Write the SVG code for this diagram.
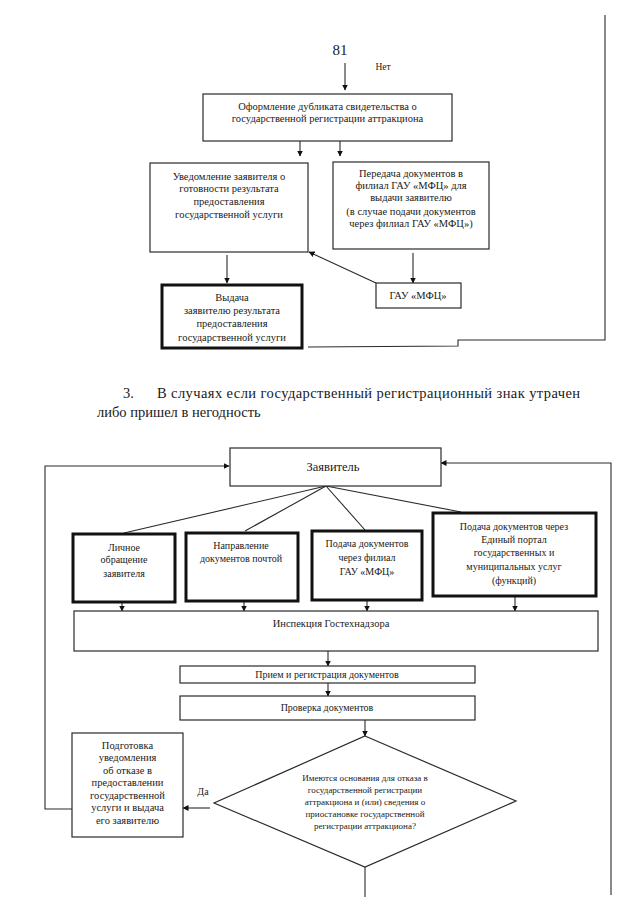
<svg xmlns="http://www.w3.org/2000/svg" width="640" height="905" viewBox="0 0 640 905">
<style>
text{font-family:"Liberation Serif","Times New Roman",serif;fill:#1a1a1a;text-anchor:middle}
.b{fill:#fff;stroke:#2a2a2a;stroke-width:1.2}
.k{fill:#fff;stroke:#111;stroke-width:3}
.c{fill:none;stroke:#2a2a2a;stroke-width:1.1}
.a{marker-end:url(#ah)}
.t10{font-size:10.5px}
.t10s{font-size:10px}
.t9{font-size:9px}
</style>
<defs>
<marker id="ah" markerUnits="userSpaceOnUse" markerWidth="6" markerHeight="6" refX="5.5" refY="3" orient="auto">
<path d="M0,0 L6,3 L0,6 z" fill="#111"/>
</marker>
</defs>
<rect width="640" height="905" fill="#fff"/>

<g id="page-text">
<text x="340" y="55" style="font-size:15px">81</text>
<text x="123" y="398" style="font-size:14.5px;text-anchor:start">3.</text>
<text x="157" y="398" style="font-size:14.5px;text-anchor:start" textLength="423" lengthAdjust="spacing">В случаях если государственный регистрационный знак утрачен</text>
<text x="97" y="417" style="font-size:14.5px;text-anchor:start">либо пришел в негодность</text>
</g>

<g id="connectors">
<line class="c a" x1="345" y1="63" x2="345" y2="90"/>
<line class="c a" x1="300" y1="141" x2="300" y2="156"/>
<line class="c a" x1="340" y1="141" x2="340" y2="156"/>
<line class="c a" x1="227" y1="255" x2="227" y2="283"/>
<line class="c a" x1="413" y1="253" x2="413" y2="283"/>
<line class="c a" x1="376" y1="283" x2="309" y2="252"/>
<polyline class="c" points="605,15 605,340 458,340 458,346 308,347"/>

<polyline class="c a" points="72,809 45,809 45,466 229,466"/>
<polyline class="c a" points="611,895 611,463 441,463"/>
<line class="c" x1="326" y1="486" x2="124" y2="533"/>
<line class="c" x1="326" y1="486" x2="245" y2="531"/>
<line class="c" x1="326" y1="486" x2="365" y2="530"/>
<line class="c" x1="326" y1="486" x2="461" y2="512"/>
<line class="c a" x1="122" y1="602" x2="122" y2="611"/>
<line class="c a" x1="244" y1="601" x2="244" y2="611"/>
<line class="c a" x1="367" y1="600" x2="367" y2="611"/>
<line class="c a" x1="515" y1="596" x2="515" y2="611"/>
<line class="c a" x1="328" y1="651" x2="328" y2="666"/>
<line class="c a" x1="328" y1="683" x2="328" y2="696"/>
<line class="c a" x1="365" y1="720" x2="365" y2="736"/>
<line class="c" x1="365" y1="867" x2="365" y2="897"/>
<line class="c a" x1="210" y1="808" x2="183" y2="808"/>
</g>

<g id="node-dublikat">
<rect class="b" x="203" y="94" width="249" height="47"/>
<text class="t10" x="327.5" y="110">Оформление дубликата свидетельства о</text>
<text class="t10" x="327.5" y="122">государственной регистрации аттракциона</text>
</g>

<g id="node-uvedomlenie">
<rect class="b" x="150" y="163" width="158" height="89"/>
<text class="t10" x="229" y="179.5">Уведомление заявителя о</text>
<text class="t10" x="229" y="192">готовности результата</text>
<text class="t10" x="229" y="205">предоставления</text>
<text class="t10" x="229" y="218">государственной услуги</text>
</g>

<g id="node-peredacha">
<rect class="b" x="333" y="162" width="156" height="87"/>
<text class="t10" x="411" y="177">Передача документов в</text>
<text class="t10" x="411" y="189">филиал ГАУ «МФЦ» для</text>
<text class="t10" x="411" y="201">выдачи заявителю</text>
<text class="t10" x="411" y="215">(в случае подачи документов</text>
<text class="t10" x="411" y="227">через филиал ГАУ «МФЦ»)</text>
</g>

<g id="node-vydacha">
<rect class="k" x="162" y="285" width="140" height="63"/>
<text class="t10" x="232" y="300.5">Выдача</text>
<text class="t10" x="232" y="314">заявителю результата</text>
<text class="t10" x="232" y="327">предоставления</text>
<text class="t10" x="232" y="340.5">государственной услуги</text>
</g>

<g id="node-gau">
<rect class="b" x="376" y="283" width="85" height="25"/>
<text class="t10" x="418" y="299">ГАУ «МФЦ»</text>
</g>

<g id="label-net">
<text x="383" y="70" style="font-size:9.5px">Нет</text>
</g>

<g id="node-zayavitel">
<rect class="b" x="230" y="448" width="211" height="38"/>
<text x="333" y="471" style="font-size:12.5px">Заявитель</text>
</g>

<g id="node-lichnoe">
<rect class="k" x="73" y="534" width="102" height="68"/>
<text class="t10s" x="124" y="550.5">Личное</text>
<text class="t10s" x="124" y="563">обращение</text>
<text class="t10s" x="124" y="576.5">заявителя</text>
</g>

<g id="node-pochta">
<rect class="k" x="186" y="533" width="112" height="68"/>
<text class="t10s" x="241" y="549">Направление</text>
<text class="t10s" x="241" y="562">документов почтой</text>
</g>

<g id="node-filial">
<rect class="k" x="312" y="531" width="110" height="69"/>
<text class="t10s" x="367" y="547">Подача документов</text>
<text class="t10s" x="367" y="561">через филиал</text>
<text class="t10s" x="367" y="575">ГАУ «МФЦ»</text>
</g>

<g id="node-epgu">
<rect class="k" x="433" y="513" width="163" height="83"/>
<text class="t10s" x="514" y="530">Подача документов через</text>
<text class="t10s" x="514" y="543">Единый портал</text>
<text class="t10s" x="514" y="556">государственных и</text>
<text class="t10s" x="514" y="570">муниципальных услуг</text>
<text class="t10s" x="514" y="583.5">(функций)</text>
</g>

<g id="node-inspekciya">
<rect class="b" x="74" y="611" width="524" height="40"/>
<text class="t10" x="331" y="627">Инспекция Гостехнадзора</text>
</g>

<g id="node-priem">
<rect class="b" x="180" y="666" width="295" height="17"/>
<text class="t10s" x="327" y="678">Прием и регистрация документов</text>
</g>

<g id="node-proverka">
<rect class="b" x="180" y="696" width="295" height="24"/>
<text class="t10s" x="327" y="711">Проверка документов</text>
</g>

<g id="node-usloviye">
<polygon class="b" points="365,736 516,801 365,867 214,803"/>
<text class="t9" x="365" y="781">Имеются основания для отказа в</text>
<text class="t9" x="365" y="793">государственной регистрации</text>
<text class="t9" x="365" y="805">аттракциона и (или) сведения о</text>
<text class="t9" x="365" y="817">приостановке государственной</text>
<text class="t9" x="365" y="829">регистрации аттракциона?</text>
</g>

<g id="node-otkaz">
<rect class="b" x="72" y="733" width="111" height="104"/>
<text class="t10" x="127.5" y="748.5">Подготовка</text>
<text class="t10" x="127.5" y="761">уведомления</text>
<text class="t10" x="127.5" y="773.5">об отказе в</text>
<text class="t10" x="127.5" y="786">предоставлении</text>
<text class="t10" x="127.5" y="798.5">государственной</text>
<text class="t10" x="127.5" y="811">услуги и выдача</text>
<text class="t10" x="127.5" y="823.5">его заявителю</text>
</g>

<g id="label-da">
<text x="203" y="795" style="font-size:10px">Да</text>
</g>
</svg>
